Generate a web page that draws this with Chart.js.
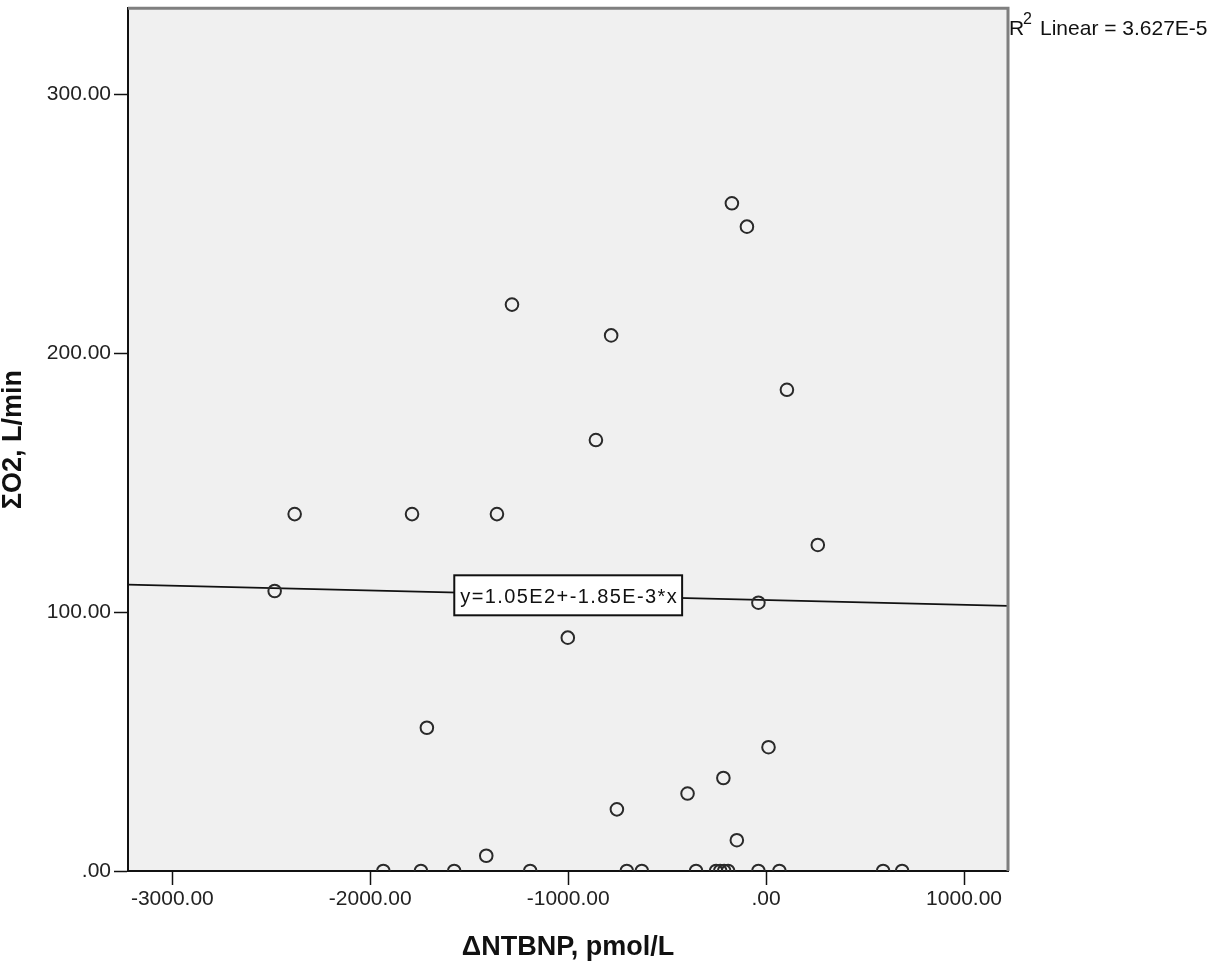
<!DOCTYPE html>
<html>
<head>
<meta charset="utf-8">
<title>ΣO2 vs ΔNTBNP</title>
<script src="https://cdn.jsdelivr.net/npm/chart.js@4/dist/chart.umd.min.js"></script>
<style>
  html, body { margin: 0; padding: 0; background: #fff; }
  #wrap { width: 1212px; height: 961px; }
</style>
</head>
<body>
<div id="wrap"><canvas id="scatterChart" width="1212" height="961"></canvas></div>
<script>
    // ΔNTBNP (pmol/L) and ΣO2 (L/min)
    const deltaNtbnp = [
        -173, -97, -1284, -783, 105, -860, -2382, -1789, -1360, -2483,
        -1002, 261, -39, -1714, 12, -216, -397, -754, -148, -1414,
        -1934, -1744, -1576, -1192, -704, -628, -354, -253, -232, -212,
        -192, -39, 67, 591, 687
    ];
    const sumO2 = [
        257.8, 248.8, 218.7, 206.8, 185.8, 166.4, 137.8, 137.8, 137.8, 108.1,
        90.1, 125.9, 103.6, 55.3, 47.8, 35.9, 29.9, 23.8, 11.9, 5.9,
        0, 0, 0, 0, 0, 0, 0, 0, 0, 0,
        0, 0, 0, 0, 0
    ];

    const xTicks = [-3000, -2000, -1000, 0, 1000];
    const yTicks = [0, 100, 200, 300];
    const xMin = -3224, xMax = 1222;
    const yMin = 0, yMax = 333.1;

    // linear fit
    const fitIntercept = 104.6;
    const fitSlope = -0.00185;
    const fitLabel = 'y=1.05E2+-1.85E-3*x';
    const fitLabelX = -1000;
    const r2Value = '3.627E-5';

    const points = deltaNtbnp.map((v, i) => ({ x: v, y: sumO2[i] }));
    const fitLine = [xMin, xMax].map(v => ({ x: v, y: fitIntercept + fitSlope * v }));

    // SPSS style numbers: 0 -> ".00"
    function fmt(v) {
        return Number(v).toFixed(2).replace(/^(-?)0\./, '$1.');
    }

    Chart.defaults.font.family = "'Liberation Sans', Arial, sans-serif";
    Chart.defaults.color = '#222';

    const plotDecor = {
        id: 'plotDecor',
        beforeDraw(chart) {
            const { ctx, chartArea: a } = chart;
            ctx.save();
            ctx.fillStyle = '#f0f0f0';
            ctx.fillRect(a.left, a.top, a.right - a.left, a.bottom - a.top);
            ctx.restore();
        },
        afterDraw(chart) {
            const { ctx, chartArea: a, scales } = chart;
            ctx.save();
            // gray frame on top and right
            ctx.strokeStyle = '#7f7f7f';
            ctx.lineWidth = 3;
            ctx.beginPath();
            ctx.moveTo(a.left, a.top);
            ctx.lineTo(a.right, a.top);
            ctx.lineTo(a.right, a.bottom);
            ctx.stroke();

            // equation box on the fit line
            const cx = scales.x.getPixelForValue(fitLabelX);
            const cy = scales.y.getPixelForValue(fitIntercept + fitSlope * fitLabelX);
            ctx.font = "20px 'Liberation Sans', Arial, sans-serif";
            ctx.letterSpacing = '1.4px';
            const tw = ctx.measureText(fitLabel).width;
            const bw = tw + 10, bh = 40;
            ctx.fillStyle = '#fff';
            ctx.fillRect(cx - bw / 2, cy - bh / 2, bw, bh);
            ctx.strokeStyle = '#111';
            ctx.lineWidth = 2;
            ctx.strokeRect(cx - bw / 2, cy - bh / 2, bw, bh);
            ctx.fillStyle = '#111';
            ctx.textAlign = 'center';
            ctx.textBaseline = 'middle';
            ctx.fillText(fitLabel, cx + 1, cy + 2);
            ctx.letterSpacing = '0px';

            // R² note outside the plot
            ctx.textAlign = 'left';
            ctx.textBaseline = 'alphabetic';
            ctx.fillStyle = '#111';
            ctx.font = "21px 'Liberation Sans', Arial, sans-serif";
            ctx.fillText('R', a.right + 1, a.top + 26.7);
            ctx.font = "16px 'Liberation Sans', Arial, sans-serif";
            ctx.fillText('2', a.right + 15, a.top + 16);
            ctx.font = "21px 'Liberation Sans', Arial, sans-serif";
            ctx.fillText('Linear = ' + r2Value, a.right + 32, a.top + 26.7);
            ctx.restore();
        }
    };

    const ctx = document.getElementById('scatterChart').getContext('2d');
    const scatterChart = new Chart(ctx, {
        type: 'scatter',
        data: {
            datasets: [{
                label: 'ΣO2',
                data: points,
                backgroundColor: 'rgba(0,0,0,0)',
                borderColor: '#2a2a2a',
                borderWidth: 2,
                pointRadius: 6.3,
                clip: 0
            },
            {
                type: 'line',
                label: 'Linear',
                data: fitLine,
                borderColor: '#111',
                borderWidth: 1.8,
                pointRadius: 0,
                fill: false,
                tension: 0,
                clip: 0
            }]
        },
        options: {
            responsive: false,
            animation: false,
            devicePixelRatio: 1,
            layout: {
                padding: { top: 5, right: 204, bottom: 0, left: 0 }
            },
            plugins: {
                legend: { display: false },
                tooltip: { enabled: false }
            },
            scales: {
                x: {
                    type: 'linear',
                    min: xMin,
                    max: xMax,
                    afterBuildTicks: scale => { scale.ticks = xTicks.map(v => ({ value: v })); },
                    afterFit: scale => { scale.height = 90; },
                    ticks: {
                        callback: v => fmt(v),
                        font: { size: 21 },
                        color: '#222',
                        padding: 2,
                        maxRotation: 0,
                        autoSkip: false
                    },
                    grid: {
                        drawOnChartArea: false,
                        drawTicks: true,
                        tickLength: 14,
                        tickColor: '#111',
                        tickWidth: 1.5
                    },
                    border: { display: true, color: '#111', width: 2 },
                    title: {
                        display: true,
                        text: 'ΔNTBNP, pmol/L',
                        font: { size: 27, weight: 'bold', lineHeight: 1 },
                        color: '#111',
                        padding: 0
                    }
                },
                y: {
                    type: 'linear',
                    min: yMin,
                    max: yMax,
                    afterBuildTicks: scale => { scale.ticks = yTicks.map(v => ({ value: v })); },
                    afterFit: scale => {
                        scale.width = 128;
                        scale.paddingTop = 0;
                        scale.paddingBottom = 0;
                    },
                    ticks: {
                        callback: v => fmt(v),
                        // tiny lineHeight keeps the layout from reserving space above the plot
                        font: { size: 21, lineHeight: 0.05 },
                        color: '#222',
                        padding: 3,
                        autoSkip: false
                    },
                    grid: {
                        drawOnChartArea: false,
                        drawTicks: true,
                        tickLength: 14,
                        tickColor: '#111',
                        tickWidth: 1.5
                    },
                    border: { display: true, color: '#111', width: 2 },
                    title: {
                        display: true,
                        text: 'ΣO2, L/min',
                        font: { size: 27, weight: 'bold', lineHeight: 1 },
                        color: '#111',
                        padding: 0
                    }
                }
            }
        },
        plugins: [plotDecor]
    });
</script>
</body>
</html>
